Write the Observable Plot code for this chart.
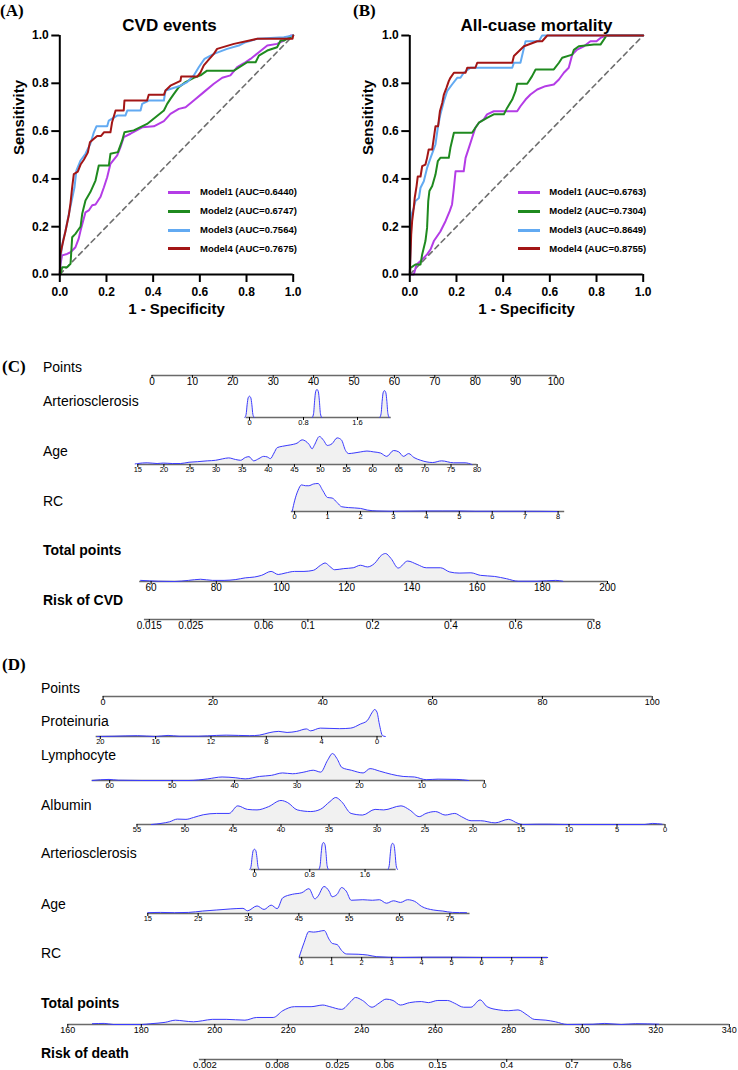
<!DOCTYPE html>
<html>
<head>
<meta charset="utf-8">
<script src="https://cdn.jsdelivr.net/npm/d3@7"></script>
<script src="https://cdn.jsdelivr.net/npm/@observablehq/plot@0.6"></script>
<style>
  html, body { margin: 0; padding: 0; background: #fff; overflow: hidden; }
  #fig { position: relative; width: 738px; height: 1070px; overflow: hidden;
         font-family: "Liberation Sans", Arial, Helvetica, sans-serif; color: #000; }
  #fig svg { position: absolute; left: 0; overflow: visible; background: transparent; }
  .lab { position: absolute; line-height: 1.15; white-space: nowrap; transform: translateY(-50%); }
  .panel { font-family: "Liberation Serif", "Times New Roman", serif; font-weight: bold; font-size: 17px; }
  .row { font-size: 14px; }
  .row.bold { font-weight: bold; }
  .leg { font-weight: bold; font-size: 9.5px; }
  .legline { position: absolute; height: 3px; }
</style>
</head>
<body>
<div id="fig"></div>
<script>
// ---------- ROC curves: [1 - specificity, sensitivity] ----------
const modelNames = ["Model1", "Model2", "Model3", "Model4"];
const modelColors = ["#b43ce6", "#1f8a1f", "#62aaf2", "#a31616"];
const axisTicks = [0, 0.2, 0.4, 0.6, 0.8, 1.0];
const chanceLine = [0, 1];

const cvdAuc = ["0.6440", "0.6747", "0.7564", "0.7675"];
const cvdModel1 = [[0,0],[0.003,0.045],[0.01,0.08],[0.031,0.086],[0.046,0.093],[0.067,0.114],[0.081,0.15],[0.089,0.184],[0.11,0.26],[0.124,0.268],[0.139,0.29],[0.153,0.293],[0.174,0.324],[0.189,0.365],[0.203,0.407],[0.217,0.463],[0.246,0.498],[0.26,0.533],[0.274,0.575],[0.303,0.589],[0.353,0.616],[0.403,0.62],[0.446,0.642],[0.474,0.672],[0.51,0.693],[0.539,0.7],[0.574,0.728],[0.617,0.763],[0.66,0.798],[0.696,0.823],[0.731,0.833],[0.76,0.868],[0.789,0.884],[0.817,0.902],[0.853,0.93],[0.889,0.958],[0.931,0.965],[0.96,0.979],[0.989,1],[1,1]];
const cvdModel2 = [[0,0],[0.003,0],[0.01,0.03],[0.031,0.03],[0.046,0.045],[0.053,0.156],[0.067,0.17],[0.077,0.184],[0.089,0.2],[0.096,0.254],[0.11,0.31],[0.131,0.345],[0.153,0.393],[0.167,0.456],[0.21,0.456],[0.217,0.505],[0.249,0.512],[0.267,0.56],[0.277,0.595],[0.317,0.603],[0.374,0.63],[0.41,0.658],[0.446,0.686],[0.46,0.714],[0.474,0.735],[0.489,0.756],[0.51,0.784],[0.539,0.805],[0.574,0.823],[0.603,0.833],[0.631,0.853],[0.746,0.853],[0.803,0.888],[0.839,0.888],[0.853,0.916],[0.889,0.937],[0.931,0.951],[0.946,0.979],[0.96,0.979],[1,1]];
const cvdModel3 = [[0,0],[0.003,0.06],[0.007,0.1],[0.014,0.142],[0.024,0.18],[0.039,0.254],[0.049,0.3],[0.063,0.365],[0.071,0.435],[0.089,0.477],[0.11,0.505],[0.131,0.547],[0.146,0.595],[0.157,0.62],[0.203,0.62],[0.21,0.644],[0.246,0.665],[0.281,0.665],[0.289,0.686],[0.346,0.686],[0.353,0.714],[0.381,0.728],[0.446,0.728],[0.453,0.77],[0.517,0.79],[0.546,0.805],[0.574,0.833],[0.596,0.868],[0.62,0.902],[0.66,0.923],[0.717,0.944],[0.767,0.958],[0.796,0.972],[0.846,0.986],[0.96,0.993],[1,1]];
const cvdModel4 = [[0,0],[0.003,0.086],[0.01,0.12],[0.024,0.18],[0.039,0.25],[0.046,0.3],[0.053,0.365],[0.06,0.42],[0.077,0.43],[0.089,0.46],[0.103,0.48],[0.12,0.51],[0.129,0.553],[0.146,0.568],[0.16,0.58],[0.177,0.58],[0.189,0.595],[0.217,0.595],[0.224,0.637],[0.239,0.686],[0.274,0.686],[0.277,0.728],[0.374,0.728],[0.381,0.752],[0.446,0.752],[0.453,0.77],[0.474,0.79],[0.517,0.81],[0.52,0.828],[0.589,0.828],[0.603,0.846],[0.617,0.875],[0.639,0.9],[0.66,0.923],[0.674,0.944],[0.746,0.965],[0.846,0.986],[0.997,0.986],[1,1]];

const deathAuc = ["0.6763", "0.7304", "0.8649", "0.8755"];
const deathModel1 = [[0,0],[0.017,0],[0.029,0.042],[0.046,0.056],[0.074,0.084],[0.089,0.105],[0.103,0.14],[0.131,0.18],[0.153,0.223],[0.171,0.265],[0.181,0.293],[0.189,0.363],[0.196,0.432],[0.231,0.432],[0.239,0.488],[0.253,0.53],[0.267,0.572],[0.281,0.614],[0.296,0.635],[0.317,0.649],[0.331,0.67],[0.36,0.683],[0.46,0.683],[0.474,0.704],[0.496,0.732],[0.517,0.753],[0.546,0.774],[0.581,0.788],[0.617,0.795],[0.639,0.816],[0.66,0.844],[0.681,0.865],[0.696,0.92],[0.717,0.941],[0.746,0.955],[0.774,0.976],[0.8,0.976],[0.817,0.99],[0.843,1],[1,1]];
const deathModel2 = [[0,0],[0.003,0.028],[0.024,0.042],[0.046,0.042],[0.053,0.084],[0.06,0.112],[0.067,0.14],[0.074,0.195],[0.079,0.307],[0.084,0.349],[0.096,0.37],[0.11,0.418],[0.12,0.474],[0.131,0.488],[0.167,0.488],[0.174,0.53],[0.189,0.593],[0.267,0.593],[0.281,0.614],[0.296,0.635],[0.331,0.655],[0.36,0.67],[0.403,0.67],[0.417,0.697],[0.439,0.732],[0.453,0.767],[0.46,0.798],[0.503,0.798],[0.524,0.83],[0.539,0.858],[0.617,0.858],[0.639,0.886],[0.653,0.907],[0.696,0.92],[0.703,0.94],[0.724,0.955],[0.789,0.962],[0.817,0.962],[0.843,1],[1,1]];
const deathModel3 = [[0,0],[0.003,0.098],[0.007,0.25],[0.017,0.279],[0.024,0.307],[0.039,0.32],[0.046,0.363],[0.06,0.39],[0.074,0.446],[0.089,0.488],[0.11,0.544],[0.12,0.614],[0.131,0.67],[0.146,0.725],[0.16,0.767],[0.181,0.795],[0.203,0.823],[0.217,0.823],[0.231,0.844],[0.26,0.865],[0.439,0.865],[0.446,0.886],[0.474,0.886],[0.489,0.948],[0.496,0.976],[0.553,0.976],[0.567,1],[1,1]];
const deathModel4 = [[0,0],[0.003,0.084],[0.006,0.167],[0.01,0.223],[0.017,0.279],[0.021,0.32],[0.029,0.37],[0.034,0.41],[0.046,0.41],[0.053,0.453],[0.067,0.46],[0.074,0.488],[0.081,0.523],[0.096,0.523],[0.103,0.572],[0.11,0.62],[0.121,0.62],[0.129,0.683],[0.139,0.718],[0.146,0.753],[0.157,0.781],[0.167,0.809],[0.174,0.823],[0.189,0.844],[0.239,0.844],[0.246,0.865],[0.281,0.865],[0.289,0.886],[0.439,0.886],[0.446,0.914],[0.467,0.934],[0.489,0.955],[0.546,0.976],[0.567,0.976],[0.589,1],[1,1]];

// ---------- Nomogram (C): CVD events ----------
const cvdPointsTicks = [0, 10, 20, 30, 40, 50, 60, 70, 80, 90, 100];
const cvdArterioTicks = [0, 0.8, 1.6];
const cvdArterioLevels = [0, 1, 2];
const cvdArterioHeights = [0.76, 1, 0.96];
const cvdAgeTicks = [15, 20, 25, 30, 35, 40, 45, 50, 55, 60, 65, 70, 75, 80];
const cvdAgeDensity = [[14.5,0.02],[15,0.035],[16.8,0.06],[18.7,0.035],[19.9,0.05],[21.6,0.035],[23.2,0.035],[24.8,0.08],[26.4,0.1],[28.3,0.13],[29.9,0.15],[31.2,0.2],[32.4,0.235],[33.7,0.18],[34.7,0.15],[35.6,0.25],[36.3,0.28],[37.2,0.13],[38.2,0.21],[39.1,0.29],[39.8,0.27],[40.4,0.21],[41.1,0.41],[41.7,0.6],[42.7,0.65],[43.6,0.68],[44.8,0.72],[45.5,0.76],[46.5,0.88],[47.1,0.84],[47.8,0.72],[48.4,0.56],[48.8,0.68],[49.8,1],[50.6,0.86],[51.3,0.68],[52.2,0.74],[53.2,0.95],[54,0.88],[54.8,0.5],[55.4,0.39],[56.4,0.41],[57.7,0.45],[58.9,0.48],[60.2,0.45],[61.5,0.41],[62.7,0.29],[64,0.5],[65,0.45],[65.9,0.29],[66.9,0.39],[67.9,0.25],[69.2,0.15],[70.4,0.09],[71.5,0.07],[73.2,0.13],[75.5,0.06],[77.7,0.06],[79,0]];
const cvdRcTicks = [0, 1, 2, 3, 4, 5, 6, 7, 8];
const cvdRcDensity = [[-0.07,0.02],[0,0.38],[0.1,0.74],[0.21,0.95],[0.33,0.92],[0.43,0.92],[0.57,0.98],[0.71,1],[0.86,0.74],[1,0.5],[1.14,0.48],[1.29,0.32],[1.43,0.17],[1.64,0.14],[2,0.11],[2.21,0.05],[2.5,0.02],[2.93,0.01],[3.5,0.015],[3.93,0.02],[4.5,0.02],[5,0.02],[5.5,0.01],[6.2,0.01],[6.9,0.01],[8,0]];
const cvdTotalTicks = [60, 80, 100, 120, 140, 160, 180, 200];
const cvdTotalDensity = [[56.8,0.04],[62.2,0.01],[67.2,0],[71.5,0.04],[75.2,0.08],[78.8,0.04],[82.4,0.04],[86,0.07],[88.9,0.13],[91.7,0.16],[93.9,0.22],[96.8,0.36],[99,0.25],[101.1,0.3],[104,0.36],[106.9,0.36],[109.8,0.4],[112,0.58],[113.4,0.66],[114.8,0.54],[116.3,0.42],[119.1,0.46],[122,0.49],[124.2,0.58],[126.4,0.52],[128.5,0.64],[130.7,0.94],[131.9,1],[133.6,0.82],[135.8,0.48],[138.7,0.73],[141.6,0.61],[144.4,0.49],[148.8,0.49],[151.6,0.34],[154.5,0.3],[158.1,0.31],[161,0.22],[165.4,0.18],[169,0.1],[172.6,0.01],[178.4,0.01],[184.1,0.04],[186.3,0.01]];
const cvdRiskTicks = [0.015, 0.025, 0.06, 0.1, 0.2, 0.4, 0.6, 0.8];
const cvdLogitIntercept = -6.613;
const cvdLogitSlope = 0.04085;

// ---------- Nomogram (D): all-cause death ----------
const deathPointsTicks = [0, 20, 40, 60, 80, 100];
const proteinuriaTicks = [20, 16, 12, 8, 4, 0];
const proteinuriaDensity = [[20.2,0],[19,0.01],[17.3,0.03],[16,0],[15.1,0.04],[14.3,0.01],[12.9,0.01],[11.6,0.04],[10.9,0.05],[10,0.04],[9.2,0.03],[8.5,0.05],[7.8,0.14],[7.1,0.19],[6.5,0.15],[5.8,0.19],[5.1,0.28],[4.8,0.21],[4.1,0.31],[3.4,0.3],[2.7,0.29],[1.9,0.31],[1.2,0.46],[0.7,0.59],[0.34,0.9],[0.17,1],[0,0.9],[-0.17,0.46],[-0.4,0.03],[-0.6,0]];
const lymphocyteTicks = [60, 50, 40, 30, 20, 10, 0];
const lymphocyteDensity = [[62.8,0],[60.1,0.04],[58.6,0.01],[54.9,0],[51.1,0],[47.3,0],[44.3,0.06],[42,0.13],[39.8,0.1],[38.3,0.06],[36,0.15],[34.1,0.19],[32.3,0.28],[30.7,0.25],[28.9,0.31],[27.4,0.38],[26.2,0.31],[25.1,0.75],[24.3,1],[23.6,0.81],[22.8,0.48],[21.3,0.38],[19.4,0.28],[18.3,0.44],[16.8,0.35],[14.9,0.23],[13,0.15],[11.2,0.13],[9.3,0.03],[7.4,0.05],[4.4,0.04],[2.5,0]];
const albuminTicks = [55, 50, 45, 40, 35, 30, 25, 20, 15, 10, 5, 0];
const albuminDensity = [[53.5,0],[52.5,0.04],[51.6,0.1],[50.8,0.2],[49.9,0.19],[49.1,0.26],[48.1,0.36],[46.7,0.41],[45.4,0.41],[44.5,0.69],[43.5,0.56],[42.5,0.54],[41.3,0.66],[40,0.89],[39.3,0.81],[38.3,0.54],[36.9,0.48],[35.9,0.56],[34.9,0.85],[34.3,1],[33.7,0.85],[32.7,0.41],[31.5,0.35],[30.2,0.56],[29.3,0.54],[27.5,0.69],[26.6,0.54],[25.6,0.29],[24.9,0.41],[23.9,0.48],[22.9,0.35],[21.9,0.41],[21.2,0.29],[20.2,0.14],[19.2,0.14],[17.7,0.06],[16.3,0.19],[15.3,0.04],[14.8,0],[13.3,0.01],[12.1,0.01],[10.4,0],[2.1,0],[1.3,0.04],[0.3,0.01]];
const deathArterioTicks = [0, 0.8, 1.6];
const deathArterioLevels = [0, 1, 2];
const deathArterioHeights = [0.75, 1, 0.97];
const deathAgeTicks = [15, 25, 35, 45, 55, 65, 75];
const deathAgeDensity = [[15,0.03],[17.5,0.04],[20.3,0.03],[23.1,0.04],[25.9,0.09],[28.7,0.13],[31.5,0.17],[33.9,0.19],[34.8,0.1],[36.7,0.28],[38.1,0.15],[39.5,0.31],[40.7,0.18],[41.8,0.58],[43.7,0.71],[45.6,0.77],[47,0.92],[48.2,0.54],[48.8,0.64],[50,1],[51,0.83],[51.6,0.62],[52.6,0.71],[53.5,0.96],[54.4,0.83],[55.4,0.49],[57.7,0.51],[59.6,0.49],[61,0.51],[62.4,0.38],[63.8,0.47],[65.2,0.41],[66.6,0.51],[68,0.45],[69.4,0.26],[71.7,0.13],[73.6,0.09],[75.5,0.04],[78.3,0.03]];
const deathRcTicks = [0, 1, 2, 3, 4, 5, 6, 7, 8];
const deathRcDensity = [[-0.08,0.03],[0.08,0.55],[0.24,0.96],[0.39,0.94],[0.55,0.96],[0.75,1],[0.91,0.68],[1.02,0.52],[1.18,0.48],[1.33,0.26],[1.49,0.13],[1.88,0.12],[2.2,0.09],[2.5,0.03],[3.3,0],[4.1,0.01],[5,0.01],[6,0],[8.2,0]];
const deathTotalTicks = [160, 180, 200, 220, 240, 260, 280, 300, 320, 340];
const deathTotalDensity = [[166.7,0.03],[169.9,0.04],[172.4,0],[180.1,0],[182.6,0.03],[186.5,0.08],[189.3,0.16],[191.6,0.13],[194.2,0.1],[196.7,0.14],[199.3,0.19],[203.1,0.19],[208.2,0.16],[211.4,0.26],[215.9,0.26],[218.5,0.51],[221.7,0.66],[226.2,0.66],[229.4,0.72],[231.3,0.66],[234.5,0.56],[237,0.85],[238.3,1],[240.2,0.89],[242.8,0.64],[244.7,0.79],[246.6,0.94],[248.5,0.89],[250.5,0.72],[253,0.81],[256.2,0.85],[258.1,0.81],[260.7,0.89],[263.3,0.89],[265.2,0.79],[267.7,0.64],[269.7,0.64],[272.2,0.91],[274.1,0.66],[277.3,0.54],[279.9,0.51],[282.5,0.54],[285,0.35],[286.9,0.19],[290.1,0.16],[292.7,0.1],[295.9,0],[302.9,0.01],[306.1,0.04],[310.6,0],[314.5,0.03],[320.8,0.01]];
const deathRiskTicks = [0.002, 0.008, 0.025, 0.06, 0.15, 0.4, 0.7, 0.86];
const deathLogitIntercept = -20.162;
const deathLogitSlope = 0.0707;

// profile of one narrow peak for the three-level arteriosclerosis grade
const peakOffsets = [-0.07, -0.05, -0.035, -0.02, 0, 0.02, 0.035, 0.05, 0.07];
const peakShape = [0, 0.15, 0.6, 0.92, 1, 0.92, 0.6, 0.15, 0];

// ---------- drawing ----------
const FONT = '"Liberation Sans", Arial, Helvetica, sans-serif';
const DENSITY_FILL = "#f1f1f1";
const DENSITY_STROKE = "#3b3bff";
const AXIS_GREY = "#6a6a6a";
const fig = document.getElementById("fig");

function place(node, left, top) {
  node.style.position = "absolute";
  node.style.left = left + "px";
  node.style.top = top + "px";
  fig.appendChild(node);
  return node;
}

function textLabel(text, left, y, cls) {
  const d = document.createElement("div");
  d.className = "lab " + cls;
  d.textContent = text;
  d.style.left = left + "px";
  d.style.top = y + "px";
  fig.appendChild(d);
  return d;
}

function rocPanel(p) {
  const H = 330;
  const curves = [p.m1, p.m2, p.m3, p.m4];
  const rows = curves.flatMap((pts, k) => pts.map(([fpr, tpr]) => ({fpr, tpr, model: modelNames[k]})));
  const chart = Plot.plot({
    width: p.width, height: H,
    marginLeft: p.frameLeft, marginRight: p.width - p.frameRight,
    marginTop: 35, marginBottom: H - 274,
    x: {domain: [0, 1], label: null},
    y: {domain: [0, 1], label: null},
    color: {domain: modelNames, range: modelColors},
    style: {fontFamily: FONT, fontWeight: "bold", background: "transparent", overflow: "visible"},
    marks: [
      Plot.line(chanceLine, {x: d => d, y: d => d, stroke: "#6e6e6e", strokeWidth: 1.6, strokeDasharray: "5,4"}),
      Plot.line(rows, {x: "fpr", y: "tpr", z: "model", stroke: "model", strokeWidth: 2}),
      Plot.ruleX([0], {stroke: "#000", strokeWidth: 2}),
      Plot.ruleY([0], {stroke: "#000", strokeWidth: 2}),
      Plot.axisX({ticks: axisTicks, tickFormat: d3.format(".1f"), tickSize: 8, tickPadding: 5,
                  fontSize: 12, fontWeight: "bold", strokeWidth: 2, label: null}),
      Plot.axisY({ticks: axisTicks, tickFormat: d3.format(".1f"), tickSize: 8, tickPadding: 3,
                  fontSize: 12, fontWeight: "bold", strokeWidth: 2, label: null}),
      Plot.text([p.title], {text: d => d, frameAnchor: "top", dy: -17, dx: p.titleDx, fontSize: 17, fontWeight: "bold"}),
      Plot.text(["1 - Specificity"], {text: d => d, frameAnchor: "bottom", dy: 39, fontSize: 15, fontWeight: "bold"}),
      Plot.text(["Sensitivity"], {text: d => d, frameAnchor: "left", dx: p.yTitleDx, rotate: -90, fontSize: 15, fontWeight: "bold"})
    ]
  });
  place(chart, p.left, 0);

  // legend
  const legendRows = [192.3, 211, 230, 248.7];
  modelNames.forEach((name, k) => {
    const line = document.createElement("div");
    line.className = "legline";
    line.style.left = p.legendLine + "px";
    line.style.width = "22px";
    line.style.top = (legendRows[k] - 1.5) + "px";
    line.style.background = modelColors[k];
    fig.appendChild(line);
    textLabel(`${name} (AUC=${p.auc[k]})`, p.legendText, legendRows[k], "leg");
  });
}

function logitOf(p) { return Math.log(p / (1 - p)); }

function nomogramRow(r) {
  const H = 48, base = 34, hd = r.hd || 28;
  let dens = null;
  if (r.density) dens = r.density.map(([v, h]) => ({v, h, g: 0}));
  if (r.levels) dens = r.levels.flatMap((c, i) =>
    peakOffsets.map((o, j) => ({v: c + o, h: r.heights[i] * peakShape[j], g: i})));
  const marks = [];
  if (dens) marks.push(Plot.areaY(dens, {x: "v", y: "h", z: "g", fill: DENSITY_FILL, curve: "monotone-x"}));
  marks.push(Plot.ruleY([0], {x1: () => r.line[0], x2: () => r.line[1], stroke: AXIS_GREY, strokeWidth: 1.4}));
  if (dens) marks.push(Plot.lineY(dens, {x: "v", y: "h", z: "g", stroke: DENSITY_STROKE, strokeWidth: 1, curve: "monotone-x"}));
  marks.push(Plot.axisX(r.tickAt, {tickFormat: r.tickText, tickSize: 3, tickPadding: -1,
                                   fontSize: r.fontSize, label: null}));
  const chart = Plot.plot({
    width: 738, height: H,
    margin: 0, marginBottom: H - base,
    x: {domain: r.domain, range: r.range, label: null},
    y: {domain: [0, 1], range: [base, base - hd], axis: null},
    style: {fontFamily: FONT, background: "transparent", overflow: "visible"},
    marks
  });
  place(chart, 0, r.axisY - base);
  textLabel(r.name, r.labelX, r.labelY, r.bold ? "row bold" : "row");
}

function numericRow(r, ticks) {
  return Object.assign({tickAt: ticks, tickText: d => String(d)}, r);
}

function riskRow(r, ticks, intercept, slope) {
  const toPoints = p => (logitOf(p) - intercept) / slope;
  const at = ticks.map(toPoints);
  const text = new Map(at.map((t, i) => [t, String(ticks[i])]));
  return Object.assign({tickAt: at, tickText: d => text.get(d),
                        line: [toPoints(ticks[0]) - 1.5, toPoints(ticks[ticks.length - 1])]}, r);
}

// ---- panels A and B ----
rocPanel({left: 0, width: 360, frameLeft: 59.3, frameRight: 292.7, title: "CVD events", titleDx: -7,
          yTitleDx: -41, m1: cvdModel1, m2: cvdModel2, m3: cvdModel3, m4: cvdModel4, auc: cvdAuc,
          legendLine: 168, legendText: 200});
rocPanel({left: 360, width: 378, frameLeft: 49.3, frameRight: 282.7, title: "All-cuase mortality", titleDx: 10,
          yTitleDx: -42, m1: deathModel1, m2: deathModel2, m3: deathModel3, m4: deathModel4, auc: deathAuc,
          legendLine: 518, legendText: 549.3});

textLabel("(A)", 0, 11, "panel");
textLabel("(B)", 353, 11, "panel");
textLabel("(C)", 2, 367, "panel");
textLabel("(D)", 2, 665, "panel");

// ---- panel C ----
const cvdTotalScale = {domain: [60, 200], range: [150.6, 607]};
[
  numericRow({name: "Points", labelX: 43, labelY: 367, axisY: 375, domain: [0, 100], range: [151.5, 555.5],
              line: [0, 100], fontSize: 10}, cvdPointsTicks),
  numericRow({name: "Arteriosclerosis", labelX: 43, labelY: 401, axisY: 417, domain: [0, 2], range: [249, 384],
              line: [-0.05, 2.1], fontSize: 7.5, levels: cvdArterioLevels, heights: cvdArterioHeights, hd: 28}, cvdArterioTicks),
  numericRow({name: "Age", labelX: 43, labelY: 451, axisY: 464.3, domain: [15, 80], range: [137.3, 476.6],
              line: [15, 80], fontSize: 7.5, density: cvdAgeDensity, hd: 28}, cvdAgeTicks),
  numericRow({name: "RC", labelX: 43, labelY: 501, axisY: 510.7, domain: [0, 8], range: [294.1, 557.6],
              line: [-0.1, 8.2], fontSize: 7.5, density: cvdRcDensity, hd: 28}, cvdRcTicks),
  numericRow({name: "Total points", bold: true, labelX: 43, labelY: 550, axisY: 581, ...cvdTotalScale,
              line: [56.5, 200], fontSize: 10, density: cvdTotalDensity, hd: 28}, cvdTotalTicks),
  riskRow({name: "Risk of CVD", bold: true, labelX: 43, labelY: 600, axisY: 618.7, ...cvdTotalScale,
           fontSize: 10}, cvdRiskTicks, cvdLogitIntercept, cvdLogitSlope)
].forEach(nomogramRow);

// ---- panel D ----
const deathTotalScale = {domain: [160, 340], range: [67.3, 728.8]};
[
  numericRow({name: "Points", labelX: 41, labelY: 688, axisY: 696, domain: [0, 100], range: [102.6, 651.7],
              line: [0, 100], fontSize: 9}, deathPointsTicks),
  numericRow({name: "Proteinuria", labelX: 41, labelY: 721, axisY: 735.7, domain: [20, 0], range: [99.8, 376.5],
              line: [20.3, -0.4], fontSize: 7.5, density: proteinuriaDensity, hd: 27}, proteinuriaTicks),
  numericRow({name: "Lymphocyte", labelX: 41, labelY: 755, axisY: 780, domain: [60, 0], range: [109.2, 483.8],
              line: [62.8, 0], fontSize: 7.5, density: lymphocyteDensity, hd: 27}, lymphocyteTicks),
  numericRow({name: "Albumin", labelX: 41, labelY: 805, axisY: 824.3, domain: [55, 0], range: [136.5, 664.5],
              line: [55, 0], fontSize: 7.5, density: albuminDensity, hd: 27}, albuminTicks),
  numericRow({name: "Arteriosclerosis", labelX: 41, labelY: 853, axisY: 869, domain: [0, 2], range: [254, 392.2],
              line: [-0.05, 2.05], fontSize: 7.5, levels: deathArterioLevels, heights: deathArterioHeights, hd: 27}, deathArterioTicks),
  numericRow({name: "Age", labelX: 41, labelY: 904, axisY: 913.3, domain: [15, 75], range: [147.3, 449.4],
              line: [15, 79], fontSize: 7.5, density: deathAgeDensity, hd: 27}, deathAgeTicks),
  numericRow({name: "RC", labelX: 41, labelY: 953, axisY: 957.3, domain: [0, 8], range: [301.2, 541.2],
              line: [-0.08, 8.2], fontSize: 7.5, density: deathRcDensity, hd: 27}, deathRcTicks),
  numericRow({name: "Total points", bold: true, labelX: 41, labelY: 1003, axisY: 1024.3, ...deathTotalScale,
              line: [160, 340], fontSize: 9, density: deathTotalDensity, hd: 27}, deathTotalTicks),
  riskRow({name: "Risk of death", bold: true, labelX: 41, labelY: 1053, axisY: 1059.3, ...deathTotalScale,
           fontSize: 9.5}, deathRiskTicks, deathLogitIntercept, deathLogitSlope)
].forEach(nomogramRow);
</script>
</body>
</html>
